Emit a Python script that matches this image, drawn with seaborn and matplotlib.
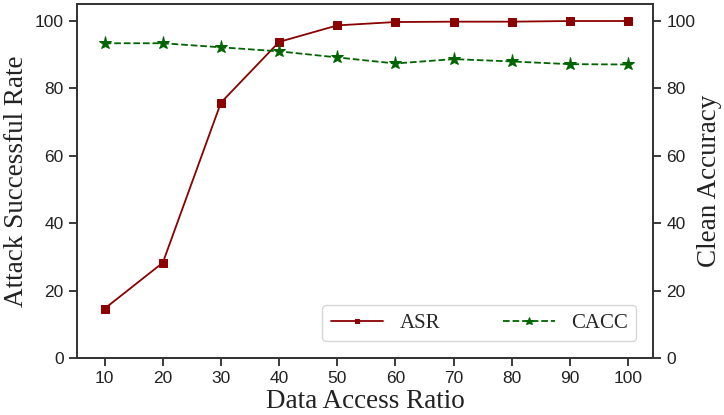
import pandas as pd
import matplotlib.pyplot as plt
import seaborn as sns

# Data
ratios = [10, 20, 30, 40, 50, 60, 70, 80, 90, 100]
asr = [14.7, 28.3, 75.8, 93.8, 98.7, 99.7, 99.8, 99.8, 100.0, 100.0]
cacc = [93.4, 93.4, 92.2, 91.0, 89.2, 87.4, 88.7, 88.0, 87.2, 87.1]

df = pd.DataFrame({'ratio': ratios, 'ASR': asr, 'CACC': cacc})

sns.set_theme(style='ticks')
plt.rcParams['font.family'] = ['Liberation Sans', 'DejaVu Sans']
serif = 'Liberation Serif'

fig, ax1 = plt.subplots(figsize=(7.24, 4.15), dpi=100)
ax2 = ax1.twinx()

sns.lineplot(data=df, x='ratio', y='ASR', ax=ax1, color='darkred', marker='s',
             markersize=5.5, markeredgecolor='darkred', linewidth=1.3, label='ASR', legend=False)
sns.lineplot(data=df, x='ratio', y='CACC', ax=ax2, color='darkgreen', marker='*',
             markersize=9.5, markeredgecolor='darkgreen', linestyle='--', linewidth=1.3,
             label='CACC', legend=False)

ax1.set_ylim(0, 105)
ax2.set_ylim(0, 105)
ax1.set_xlim(5.2, 104.3)
ax1.set_xticks(ratios)
ax1.set_yticks([0, 20, 40, 60, 80, 100])
ax2.set_yticks([0, 20, 40, 60, 80, 100])
ax1.tick_params(labelsize=12.5, colors='#222222')
ax2.tick_params(labelsize=12.5, colors='#222222')

ax1.set_xlabel('Data Access Ratio', fontsize=19.5, family=serif, color='#222222', labelpad=2)
ax1.set_ylabel('Attack Successful Rate', fontsize=19.5, family=serif, color='#222222')
ax2.set_ylabel('Clean Accuracy', fontsize=19.5, family=serif, color='#222222', labelpad=1)

h1, l1 = ax1.get_legend_handles_labels()
h2, l2 = ax2.get_legend_handles_labels()
ax2.legend(h1 + h2, l1 + l2, loc='lower right', ncol=2, prop={'family': serif, 'size': 15},
           columnspacing=3, handlelength=2.5, markerscale=0.65, borderaxespad=0.8)

for a in (ax1, ax2):
    for s in a.spines.values():
        s.set_color('#333333')

fig.subplots_adjust(left=0.106, right=0.902, top=0.99, bottom=0.137)
plt.savefig('out.png', dpi=100)
